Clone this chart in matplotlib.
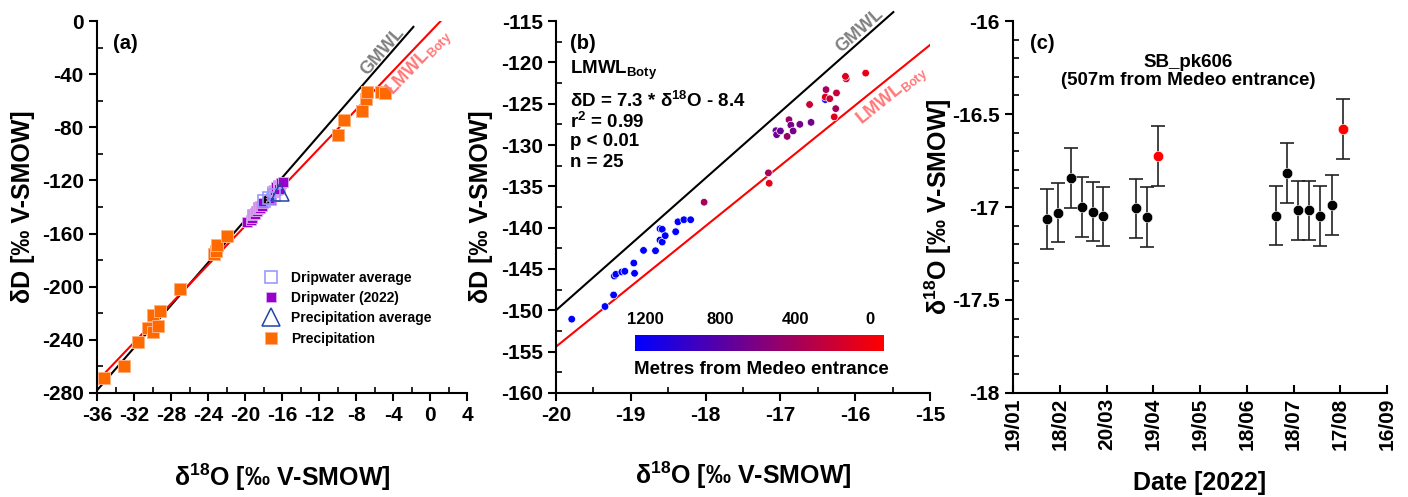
import numpy as np
import pandas as pd
import matplotlib
matplotlib.use("Agg")
import matplotlib.pyplot as plt
from matplotlib.colors import LinearSegmentedColormap, Normalize
from matplotlib.ticker import MultipleLocator, FuncFormatter
import matplotlib.dates as mdates

plt.rcParams["font.family"] = ["Liberation Sans", "DejaVu Sans"]
plt.rcParams["font.weight"] = "bold"
plt.rcParams["axes.unicode_minus"] = False
plt.rcParams["mathtext.fontset"] = "custom"
plt.rcParams["mathtext.rm"] = "Liberation Sans:bold"
plt.rcParams["mathtext.bf"] = "Liberation Sans:bold"
plt.rcParams["mathtext.default"] = "bf"

# ---------------------------------------------------------------
# data
# ---------------------------------------------------------------
# precipitation samples (panel a)
precip_o = [-35.2, -33.1, -31.6, -30.5, -30.0, -30.0, -29.2, -29.4, -27.0,
            -23.4, -23.1, -23.0, -22.0, -9.9, -9.3, -7.35, -6.9, -6.85, -5.3, -4.9]
precip_d = [-268.9, -259.7, -241.4, -231.3, -233.8, -221.5, -218.0, -229.6, -201.9,
            -175.4, -172.9, -168.8, -161.8, -86.0, -74.5, -67.7, -58.9, -53.4, -53.2, -54.4]

# dripwater 2022 (panels a and b)
drip_o = [-19.79, -19.345, -19.23, -19.22, -19.20, -19.12, -19.08, -18.96, -18.95,
          -18.83, -18.67, -18.61, -18.58, -18.61, -18.58, -18.54, -18.40, -18.37,
          -18.29, -18.20, -18.02, -17.16, -17.15, -17.06, -17.05, -17.0, -16.91,
          -16.885, -16.86, -16.83, -16.74, -16.59, -16.61, -16.39, -16.40, -16.40,
          -16.34, -16.25, -16.26, -16.28, -16.12, -16.13, -15.86]
drip_d = [-151.07, -149.54, -148.14, -145.85, -145.64, -145.36, -145.28, -144.28, -145.52,
          -142.75, -142.79, -141.5, -141.74, -140.13, -140.2, -140.97, -140.49, -139.29,
          -139.04, -139.04, -136.92, -133.37, -134.63, -128.27, -128.75, -128.3, -128.96,
          -126.94, -127.59, -128.3, -127.5, -127.26, -125.1, -123.3, -124.5, -124.2,
          -124.4, -123.7, -125.6, -126.6, -122.0, -121.7, -121.3]
drip_dist = [1250, 1250, 1250, 1250, 1250, 1250, 1250, 1250, 1250,
             1250, 1250, 1250, 1250, 1250, 1250, 1250, 1250, 1250,
             1250, 1250, 400, 400, 50, 700, 700, 700, 450,
             450, 650, 650, 650, 650, 200, 400, 1250, 100,
             200, 250, 400, 100, 150, 100, 50]

# averages (panel a)
drip_avg_o = [-17.9, -17.4, -16.9]
drip_avg_d = [-135.5, -133.5, -131.0]
precip_avg_o = [-16.2]
precip_avg_d = [-128.5]

# SB_pk606 time series (panel c)
pk606_dates = ["2022-02-10", "2022-02-17", "2022-02-25", "2022-03-04", "2022-03-11",
               "2022-03-18", "2022-04-08", "2022-04-15", "2022-04-22", "2022-07-07",
               "2022-07-14", "2022-07-21", "2022-07-28", "2022-08-04", "2022-08-12",
               "2022-08-19"]
pk606_o = [-17.064, -17.03, -16.844, -17.0, -17.025, -17.05, -17.007, -17.054, -16.725,
           -17.047, -16.817, -17.018, -17.018, -17.048, -16.99, -16.58]
pk606_err = [0.16] * 16
pk606_flag = [0, 0, 0, 0, 0, 0, 0, 0, 1, 0, 0, 0, 0, 0, 0, 1]

# ---------------------------------------------------------------
fig = plt.figure(figsize=(14.08, 4.97), dpi=100)
ax_a = fig.add_axes([0.0689, 0.2093, 0.2628, 0.7484])
ax_b = fig.add_axes([0.3949, 0.2093, 0.2656, 0.7484])
ax_c = fig.add_axes([0.7195, 0.2093, 0.2656, 0.7484])

TICK = 15
def style(ax):
    for s in ["top", "right"]:
        ax.spines[s].set_visible(False)
    for s in ["left", "bottom"]:
        ax.spines[s].set_linewidth(1.5)
    ax.tick_params(which="major", direction="out", length=6, width=1.5, labelsize=TICK)
    ax.tick_params(which="minor", direction="in", length=4, width=1.2)

def line_angle(ax, slope, x, y):
    p1 = ax.transData.transform((x, y))
    p2 = ax.transData.transform((x + 1, y + slope))
    return np.degrees(np.arctan2(p2[1] - p1[1], p2[0] - p1[0]))

def labels(ax, xl, yl, xy, yx):
    ax.set_xlabel(xl, fontsize=18, fontweight="bold", va="center")
    ax.set_ylabel(yl, fontsize=18, fontweight="bold", va="center")
    ax.xaxis.set_label_coords(0.5, xy)
    ax.yaxis.set_label_coords(yx, 0.5)

fmt = FuncFormatter(lambda v, p: f"{v:g}")
lbl_o = r"δ$^{18}$O [‰ V-SMOW]"
lbl_d = "δD [‰ V-SMOW]"

# ---------------- panel (a) ----------------
style(ax_a)
ax_a.set_xlim(-36, 4)
ax_a.set_ylim(-280, 0)
ax_a.xaxis.set_major_locator(MultipleLocator(4))
ax_a.xaxis.set_minor_locator(MultipleLocator(2))
ax_a.yaxis.set_major_locator(MultipleLocator(40))
ax_a.yaxis.set_minor_locator(MultipleLocator(20))
ax_a.xaxis.set_major_formatter(fmt)
ax_a.yaxis.set_major_formatter(fmt)

gx = np.array([-36, -1.8])
lx = np.array([-36, 1.2])
ax_a.plot(gx, 8 * gx + 10, color="black", lw=1.5, zorder=2)
ax_a.plot(lx, 7.3 * lx - 8.4, color="red", lw=1.5, zorder=2)

ax_a.plot(precip_o, precip_d, "s", color="#ff6a00", ms=9, mec="#ffb080", mew=0.7,
          label="Precipitation", zorder=3)
ax_a.plot(drip_o, drip_d, "s", color="#9900cc", ms=7.5, mec="#dcb0f0", mew=0.6,
          label="Dripwater (2022)", zorder=4)
ax_a.errorbar([drip_avg_o[0] + 0.1], [drip_avg_d[0] + 0.8], yerr=2.5, xerr=0.3,
              fmt="none", ecolor="black", elinewidth=1.2, capsize=2, zorder=5)
ax_a.plot(drip_avg_o, drip_avg_d, "s", mfc="none", mec="#9999ff", ms=9, mew=1.2,
          label="Dripwater average", zorder=6)
ax_a.plot(precip_avg_o, precip_avg_d, "^", mfc="none", mec="#2244aa", ms=13, mew=1.1,
          label="Precipitation average", zorder=6)

h, l = ax_a.get_legend_handles_labels()
order = [2, 1, 3, 0]
ax_a.legend([h[i] for i in order], [l[i] for i in order], loc="center left",
            bbox_to_anchor=(0.425, 0.228), frameon=False, fontsize=10,
            handlelength=1.4, handletextpad=0.74, labelspacing=0.45, borderpad=0)

ax_a.text(0.044, 0.94, "(a)", transform=ax_a.transAxes, fontsize=14.5, va="center")
ax_a.text(-5.1, -23, "GMWL", color="#808080", fontsize=13, ha="center", va="center",
          rotation=line_angle(ax_a, 8, -5, -30), rotation_mode="anchor")
ax_a.text(-1.1, -32, r"LMWL$_{Boty}$", color="#ff7878", fontsize=13, ha="center",
          va="center", rotation=line_angle(ax_a, 7.3, -1, -30), rotation_mode="anchor")

labels(ax_a, lbl_o, lbl_d, -0.226, -0.2)

# ---------------- panel (b) ----------------
style(ax_b)
ax_b.set_xlim(-20, -15)
ax_b.set_ylim(-160, -115)
ax_b.xaxis.set_major_locator(MultipleLocator(1))
ax_b.xaxis.set_minor_locator(MultipleLocator(0.5))
ax_b.yaxis.set_major_locator(MultipleLocator(5))
ax_b.yaxis.set_minor_locator(MultipleLocator(2.5))
ax_b.xaxis.set_major_formatter(fmt)
ax_b.yaxis.set_major_formatter(fmt)

gx = np.array([-20, -15.49])
lx = np.array([-20, -15])
ax_b.plot(gx, 8 * gx + 10, color="black", lw=1.5, clip_on=False, zorder=2)
ax_b.plot(lx, 7.3 * lx - 8.4, color="red", lw=1.5, zorder=2)

cmap = LinearSegmentedColormap.from_list("dist", ["#ff0000", "#0000ff"])
norm = Normalize(vmin=-70, vmax=1255)
ax_b.scatter(drip_o, drip_d, c=drip_dist, cmap=cmap, norm=norm, s=30,
             edgecolors="white", linewidths=0.5, zorder=3)

ax_b.text(0.038, 0.94, "(b)", transform=ax_b.transAxes, fontsize=14.5, va="center")
eq_lines = [r"LMWL$_{Boty}$", r"δD = 7.3 * δ$^{18}$O - 8.4", r"r$^2$ = 0.99",
            "p < 0.01", "n = 25"]
eq_y = [0.867, 0.785, 0.73, 0.675, 0.62]
for t, yy in zip(eq_lines, eq_y):
    ax_b.text(0.038, yy, t, transform=ax_b.transAxes, fontsize=13.5, va="center")
ax_b.text(-15.94, -116.2, "GMWL", color="#808080", fontsize=13, ha="center",
          va="center", rotation=line_angle(ax_b, 8, -16, -118), rotation_mode="anchor")
ax_b.text(-15.5, -124.1, r"LMWL$_{Boty}$", color="#ff7878", fontsize=13, ha="center",
          va="center", rotation=line_angle(ax_b, 7.3, -15.5, -122), rotation_mode="anchor")

# colour bar drawn inside panel (b)
cax = fig.add_axes([0.4508, 0.2944, 0.1766, 0.031])
grad = np.linspace(1255, -70, 256).reshape(1, -1)
cax.imshow(grad, extent=[1255, -70, 0, 1], aspect="auto", cmap=cmap, norm=norm)
cax.set_xlim(1255, -70)
cax.set_xticks([1200, 800, 400, 0])
cax.set_yticks([])
cax.xaxis.tick_top()
cax.tick_params(length=0, labelsize=12, pad=6)
for s in cax.spines.values():
    s.set_visible(False)
fig.text(0.541, 1 - 370 / 497, "Metres from Medeo entrance", fontsize=13.5,
         ha="center", va="center")

labels(ax_b, lbl_o, lbl_d, -0.22, -0.2)

# ---------------- panel (c) ----------------
style(ax_c)
dates = pd.to_datetime(pk606_dates)
vals = np.array(pk606_o)
errs = np.array(pk606_err)
flag = np.array(pk606_flag, dtype=bool)
ax_c.errorbar(dates, vals, yerr=errs, fmt="none", ecolor="#222222", elinewidth=1.2,
              capsize=5, capthick=1.2, zorder=2)
ax_c.plot(dates[~flag], vals[~flag], "o", color="black", ms=7.5, mec="white", mew=0.4,
          zorder=3)
ax_c.plot(dates[flag], vals[flag], "o", color="red", ms=7.5, mec="white", mew=0.4,
          zorder=3)

ax_c.set_xlim(pd.Timestamp("2022-01-19"), pd.Timestamp("2022-09-16"))
ax_c.set_ylim(-18, -16)
ax_c.set_xticks(pd.date_range("2022-01-19", periods=9, freq="30D"))
ax_c.xaxis.set_major_formatter(mdates.DateFormatter("%d/%m"))
ax_c.yaxis.set_major_locator(MultipleLocator(0.5))
ax_c.yaxis.set_minor_locator(MultipleLocator(0.1))
ax_c.yaxis.set_major_formatter(fmt)
ax_c.tick_params(axis="x", which="major", direction="in", rotation=90)

ax_c.text(0.045, 0.94, "(c)", transform=ax_c.transAxes, fontsize=14.5, va="center")
ax_c.text(0.468, 0.865, "SB_pk606\n(507m from Medeo entrance)",
          transform=ax_c.transAxes, fontsize=13.5, ha="center", va="center",
          linespacing=1.1)

labels(ax_c, "Date [2022]", lbl_o, -0.242, -0.2)

fig.savefig("out.png", dpi=100)
